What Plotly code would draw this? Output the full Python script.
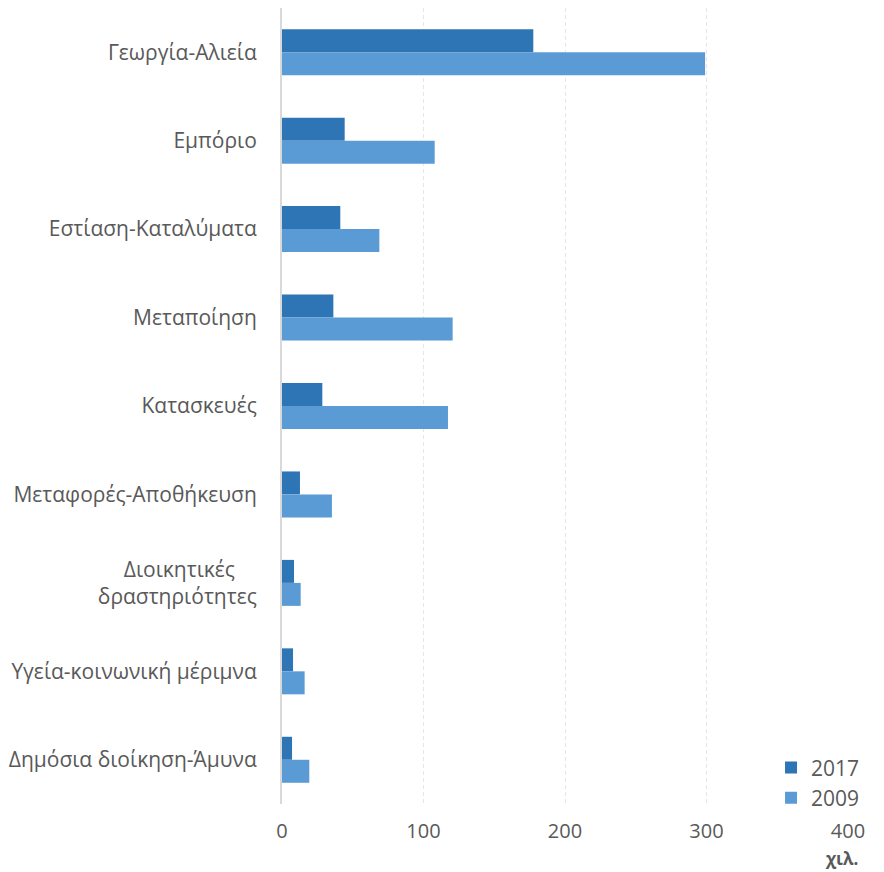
import plotly.graph_objects as go

categories = [
    "Γεωργία-Αλιεία",
    "Εμπόριο",
    "Εστίαση-Καταλύματα",
    "Μεταποίηση",
    "Κατασκευές",
    "Μεταφορές-Αποθήκευση",
    "Διοικητικές\u00a0\u00a0\u00a0\u00a0<br>δραστηριότητες",
    "Υγεία-κοινωνική μέριμνα",
    "Δημόσια διοίκηση-Άμυνα",
]
values_2017 = [177.6, 44.3, 41.2, 36.3, 28.5, 12.7, 8.5, 7.8, 7.1]
values_2009 = [299.0, 107.9, 68.8, 120.6, 117.3, 35.3, 13.2, 16.0, 19.3]
x_ticks = [0, 100, 200, 300, 400]

FONT = "Open Sans"
GREY = "#595959"

fig = go.Figure()
fig.add_trace(go.Bar(y=categories, x=values_2017, name="2017", orientation="h",
                     marker=dict(color="#2E75B6", line=dict(width=0))))
fig.add_trace(go.Bar(y=categories, x=values_2009, name="2009", orientation="h",
                     marker=dict(color="#5B9BD5", line=dict(width=0))))

fig.update_layout(
    width=876, height=864,
    margin=dict(l=274, r=36, t=0, b=68),
    barmode="group",
    bargap=0.48,
    bargroupgap=0,
    plot_bgcolor="white",
    paper_bgcolor="white",
    font=dict(family=FONT, size=20, color=GREY),
    legend=dict(x=0.864, xanchor="left", y=-0.018, yanchor="bottom",
                font=dict(size=21, color=GREY), bgcolor="rgba(0,0,0,0)",
                itemwidth=30),
    showlegend=True,
)
fig.update_xaxes(range=[0, 400], tickvals=x_ticks, showgrid=True,
                 gridcolor="#E6E6E6", griddash="4px,3px", gridwidth=1,
                 zeroline=False, showline=False, ticks="",
                 tickfont=dict(size=20, color=GREY), ticklabelstandoff=13)
fig.update_yaxes(autorange="reversed", showline=True, linecolor="#D9D9D9",
                 linewidth=2, ticks="", ticklabelstandoff=19,
                 tickfont=dict(size=21, color=GREY))
fig.add_annotation(text="<b>χιλ.</b>", xref="paper", yref="paper",
                   x=1.021, xanchor="right", y=-0.068, yanchor="middle",
                   showarrow=False, font=dict(size=17, color=GREY, family=FONT))

fig.write_html("out.html")
